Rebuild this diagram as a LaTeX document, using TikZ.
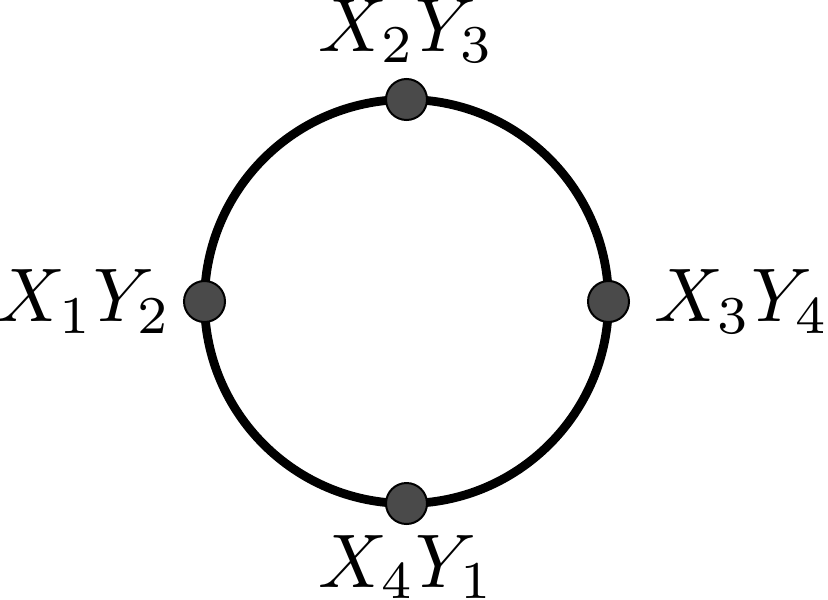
\documentclass[tikz,border=0pt]{standalone}
\newcommand\lbltext[1]{\scalebox{3.8}{$#1$}}
\begin{document}
\begin{tikzpicture}[x=0.5pt,y=-0.5pt,
  dot/.style={circle,draw=black,line width=1pt,fill=black!71,minimum size=20.5pt,inner sep=0pt},
  lab/.style={inner sep=0pt},
  ring/.style={line width=4.4pt}]
\useasboundingbox (0,0) rectangle (828,599);
\coordinate (c) at (406.5,301.5);
\draw[ring] (c) circle[radius=202];
\node[dot,label={[lab,label distance=7.5pt]above:\lbltext{X_2Y_3}}] (t) at (406.5,99.5) {};
\node[dot,label={[lab,label distance=5.5pt]left:\lbltext{X_1Y_2}}] (l) at (204.5,301.5) {};
\node[dot,label={[lab,label distance=12pt]right:\lbltext{X_3Y_4}}] (r) at (608.5,301.5) {};
\node[dot,label={[lab,label distance=5pt]below:\lbltext{X_4Y_1}}] (b) at (406.5,503.5) {};
\end{tikzpicture}
\end{document}
